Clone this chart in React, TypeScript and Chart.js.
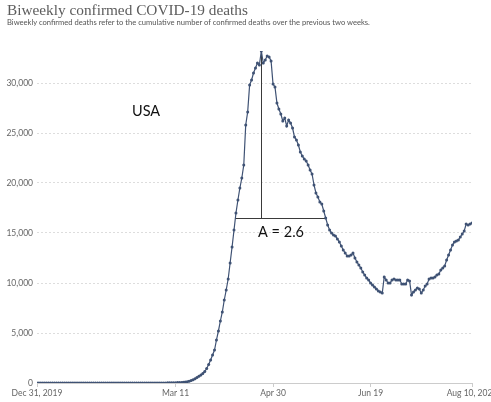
import React, { useEffect, useRef } from "react";
import { Chart, registerables } from "chart.js";

Chart.register(...registerables);

const TITLE = "Biweekly confirmed COVID-19 deaths";
const SUBTITLE =
  "Biweekly confirmed deaths refer to the cumulative number of confirmed deaths over the previous two weeks.";

// Biweekly confirmed deaths, one value per day starting Dec 31, 2019
const deaths = [
  0, 0, 0, 0, 0, 0, 0, 0, 0, 0,
  0, 0, 0, 0, 0, 0, 0, 0, 0, 0,
  0, 0, 0, 0, 0, 0, 0, 0, 0, 0,
  0, 0, 0, 0, 0, 0, 0, 0, 0, 0,
  0, 0, 0, 0, 0, 0, 0, 0, 0, 0,
  0, 0, 0, 0, 0, 0, 0, 0, 0, 0,
  1, 1, 2, 6, 9, 11, 12, 14, 17, 21,
  26, 30, 38, 45, 55, 70, 95, 130, 180, 240,
  320, 420, 540, 680, 800, 950, 1150, 1450, 1850, 2300,
  2800, 3300, 4300, 5200, 6200, 7100, 8300, 9300, 10400, 12000,
  13600, 15300, 17000, 18300, 19500, 20500, 21800, 25800, 27100, 29800,
  30300, 31000, 31500, 32000, 31800, 33200, 32000, 32300, 32700, 32600,
  32200, 29900, 29600, 28000, 27400, 26900, 26200, 26500, 25700, 26300,
  26000, 25500, 24600, 24300, 23800, 23100, 22700, 22400, 22200, 21800,
  21300, 20900, 19800, 19000, 18600, 18100, 17900, 17200, 16500, 15800,
  15300, 15000, 14800, 14700, 14400, 14100, 13700, 13300, 13000, 12700,
  12700, 12800, 13000, 12500, 12100, 11800, 11500, 11100, 10800, 10500,
  10300, 10000, 9800, 9600, 9400, 9200, 9100, 9000, 10600, 10300,
  10000, 10000, 10300, 10400, 10300, 10300, 10300, 9900, 9900, 9900,
  10300, 10200, 8800, 9100, 9300, 9500, 9400, 9000, 9300, 9700,
  9900, 10400, 10500, 10500, 10600, 10800, 10900, 11300, 11500, 11700,
  12300, 12800, 13300, 13800, 14100, 14200, 14300, 14600, 14900, 15200,
  15900, 15800, 15900, 16000,
];

const tickDays = [0, 71, 121, 171, 223];
const tickLabels = ["Dec 31, 2019", "Mar 11", "Apr 30", "Jun 19", "Aug 10, 2020"];
const yTickValues = [0, 5000, 10000, 15000, 20000, 25000, 30000];

// Annotations (in data units: day index, deaths)
const countryLabel = "USA";
const countryLabelAt = [55.9, 27200];
const amplitudeLabel = "A = 2.6";
const amplitudeLabelAt = [125.1, 15100];
const peakLine = [114.7, 33100]; // day, top value
const halfLine = [101.5, 148, 16500]; // from day, to day, value

const LINE_COLOR = "#3f5274";

const annotationPlugin = {
  id: "annotations",
  beforeDatasetsDraw(chart: any) {
    const { ctx, scales } = chart;
    const x = scales.x;
    const y = scales.y;
    ctx.save();
    ctx.strokeStyle = "#3a3a3a";
    ctx.lineWidth = 1;
    ctx.beginPath();
    const vx = Math.round(x.getPixelForValue(peakLine[0])) + 0.5;
    const hy = Math.round(y.getPixelForValue(halfLine[2])) + 0.5;
    ctx.moveTo(vx, y.getPixelForValue(peakLine[1]));
    ctx.lineTo(vx, hy);
    ctx.moveTo(x.getPixelForValue(halfLine[0]), hy);
    ctx.lineTo(x.getPixelForValue(halfLine[1]), hy);
    ctx.stroke();
    ctx.fillStyle = "#111111";
    ctx.font = "14.5px Lato";
    ctx.textAlign = "center";
    ctx.textBaseline = "middle";
    ctx.fillText(
      countryLabel,
      x.getPixelForValue(countryLabelAt[0]),
      y.getPixelForValue(countryLabelAt[1])
    );
    ctx.fillText(
      amplitudeLabel,
      x.getPixelForValue(amplitudeLabelAt[0]),
      y.getPixelForValue(amplitudeLabelAt[1])
    );
    ctx.restore();
  },
};

export default function App() {
  const canvasRef = useRef<HTMLCanvasElement | null>(null);

  useEffect(() => {
    const canvas = canvasRef.current;
    if (!canvas) return;
    const chart = new Chart(canvas, {
      type: "line",
      data: {
        datasets: [
          {
            data: deaths.map((v, i) => ({ x: i, y: v })),
            borderColor: LINE_COLOR,
            backgroundColor: LINE_COLOR,
            borderWidth: 1.2,
            pointRadius: 1.5,
            pointBorderWidth: 0,
            pointBackgroundColor: LINE_COLOR,
            tension: 0,
            fill: false,
          },
        ],
      },
      options: {
        animation: false,
        responsive: false,
        devicePixelRatio: 1,
        layout: { padding: { top: 51, right: 19, bottom: 0, left: 0 } },
        plugins: {
          legend: { display: false },
          tooltip: { enabled: false },
          title: { display: false },
        },
        scales: {
          x: {
            type: "linear",
            min: 0,
            max: deaths.length - 1,
            afterBuildTicks: (s: any) => {
              s.ticks = tickDays.map((v) => ({ value: v }));
            },
            afterFit: (s: any) => {
              s.height = 19;
              s.paddingLeft = 0;
              s.paddingRight = 0;
            },
            grid: {
              drawOnChartArea: false,
              drawTicks: true,
              tickLength: 4,
              tickColor: "#cccccc",
              color: "#cccccc",
            },
            border: { display: true, color: "#cccccc", width: 1 },
            ticks: {
              autoSkip: false,
              maxRotation: 0,
              minRotation: 0,
              padding: 1,
              color: "#666666",
              font: { family: "Lato", size: 8.5 },
              callback: (v: any) => tickLabels[tickDays.indexOf(Number(v))] ?? "",
            },
          },
          y: {
            type: "linear",
            min: 0,
            max: Math.max(...deaths),
            afterBuildTicks: (s: any) => {
              s.ticks = yTickValues.map((v) => ({ value: v }));
            },
            afterFit: (s: any) => {
              s.width = 37;
            },
            grid: {
              drawTicks: false,
              lineWidth: 1,
              color: (ctx: any) =>
                ctx.tick && ctx.tick.value === 0 ? "rgba(0,0,0,0)" : "#dddddd",
            },
            border: { display: false, dash: [2, 2] },
            ticks: {
              padding: 4,
              color: "#666666",
              font: { family: "Lato", size: 8.5 },
              callback: (v: any) => Number(v).toLocaleString("en-US"),
            },
          },
        },
      },
      plugins: [annotationPlugin],
    });
    return () => chart.destroy();
  }, []);

  return (
    <div
      style={{
        position: "absolute",
        left: 0,
        top: 0,
        width: 491,
        height: 402,
        overflow: "hidden",
        background: "#ffffff",
      }}
    >
      <canvas
        ref={canvasRef}
        width={491}
        height={402}
        style={{ position: "absolute", left: 0, top: 0, width: 491, height: 402 }}
      />
      <div
        style={{
          position: "absolute",
          left: 7,
          top: 0,
          font: '15.3px "Liberation Serif"',
          lineHeight: "20px",
          color: "#5c5c5c",
          whiteSpace: "nowrap",
        }}
      >
        {TITLE}
      </div>
      <div
        style={{
          position: "absolute",
          left: 7,
          top: 18,
          font: "7.6px Lato",
          lineHeight: "9px",
          color: "#555555",
          whiteSpace: "nowrap",
        }}
      >
        {SUBTITLE}
      </div>
    </div>
  );
}
